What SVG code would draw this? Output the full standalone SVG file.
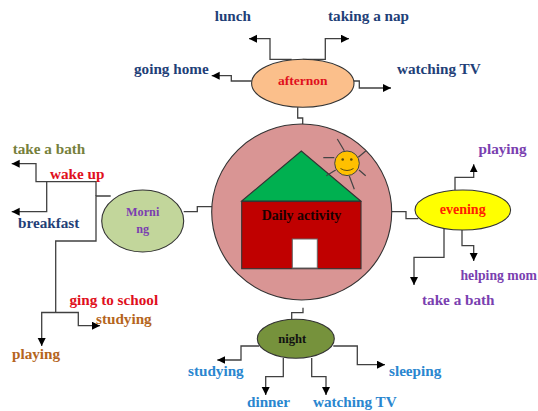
<svg xmlns="http://www.w3.org/2000/svg" width="538" height="411" viewBox="0 0 538 411">
<style>
text{font-family:"Liberation Serif","Times New Roman",serif;font-weight:bold;font-size:15.2px}
.m{text-anchor:middle}
.s{font-size:12.2px}
.c{fill:none;stroke:#404040;stroke-width:1.3}
.a{marker-end:url(#ah)}
.n{stroke:#333;stroke-width:1.1}
.blue{fill:#1f3f78}.sky{fill:#2a86cf}.pur{fill:#7a3fb0}.red{fill:#e0101c}.org{fill:#b5651d}
.ray{stroke:#444;stroke-width:1.2;fill:none}
</style>
<defs>
<marker id="ah" markerUnits="userSpaceOnUse" markerWidth="9" markerHeight="9" refX="8" refY="4" orient="auto"><path d="M0 0L8 4L0 8Z" fill="#000"/></marker>
</defs>
<rect width="538" height="411" fill="#fff"/>
<g id="connectors">
<path class="c" d="M110.7 196H96V241H55.7V313"/>
<path class="c a" d="M96 196V181.7H36V163.7H11.7"/>
<path class="c a" d="M46.7 181.7V211.7H11.7"/>
<path class="c a" d="M55.7 312.5H41.7V346"/>
<path class="c a" d="M55.7 312.5H78.3V325.7H100"/>
<path class="c" d="M183.7 211.7H197.3V206.7H212"/>
<path class="c a" d="M291.7 59.3H270V38.7H249"/>
<path class="c a" d="M302.7 59.3H325.3V38.7H349"/>
<path class="c a" d="M251.7 81H231.3V75.7H211.7"/>
<path class="c a" d="M354 81H359.3V88H391"/>
<path class="c" d="M297.7 107.3V118H302.7V129"/>
<path class="c" d="M391.5 211.7H406V218.7H418.3"/>
<path class="c a" d="M455 190V177.3H473.7V164.3"/>
<path class="c a" d="M462 230V245.7H473.7V261"/>
<path class="c a" d="M444 229V257.3H414V285"/>
<path class="c" d="M291.7 319.3V312.7H303V307.7"/>
<path class="c a" d="M259 346H241V360H217.3"/>
<path class="c a" d="M333.3 346H357.3V364.7H385"/>
<path class="c a" d="M283.3 358V376.7H265.7V395"/>
<path class="c a" d="M311.7 358V376.7H326V395"/>
</g>
<g id="center">
<ellipse class="n" cx="301.7" cy="212" rx="90" ry="88" fill="#d99594"/>
<polygon points="301.3,151 360.7,201 241.7,201" fill="#00b050" stroke="#333" stroke-width="1.1"/>
<rect class="n" x="241.7" y="201.5" width="119.3" height="67.2" fill="#c00000"/>
<rect x="292.3" y="239" width="25" height="29" fill="#fff" stroke="#666" stroke-width="1"/>
<text class="m" x="301.5" y="220" fill="#1a0000" style="font-size:14px">Daily activity</text>
<g id="sun">
<path class="ray" d="M323.3 157.7H334.3M337.3 139L344.3 150.7M366 150.7L358.3 157.3M365.7 175.7L359 170M354.3 189.3L349.3 176M326.3 175.7L335.7 170"/>
<circle cx="347" cy="163.3" r="12.3" fill="#ffc000" stroke="#444" stroke-width="1"/>
<circle cx="342.7" cy="159.5" r="1.3" fill="#5a4a10"/>
<circle cx="351.3" cy="159.5" r="1.3" fill="#5a4a10"/>
<path d="M340.5 168.5Q347 172.5 353.5 168.5" fill="none" stroke="#5a4a10" stroke-width="1"/>
</g>
</g>
<g id="morning">
<ellipse class="n" cx="142.7" cy="221" rx="41" ry="31" fill="#c2d69b"/>
<text class="m s" x="142.7" y="215.7" fill="#7a3fb0">Morni</text>
<text class="m s" x="142.7" y="233" fill="#7a3fb0">ng</text>
</g>
<g id="afternoon">
<ellipse class="n" cx="302.8" cy="83.3" rx="51.2" ry="24" fill="#fbbf8b"/>
<text class="m" x="302.7" y="84.7" fill="#e0101c" style="font-size:13.5px">afternon</text>
</g>
<g id="evening">
<ellipse class="n" cx="462.8" cy="210" rx="47.8" ry="20" fill="#ffff00"/>
<text class="m" x="462.7" y="214" fill="#ff2000" style="font-size:14px">evening</text>
</g>
<g id="night">
<ellipse class="n" cx="295.8" cy="338.8" rx="38.5" ry="19.5" fill="#76923c"/>
<text class="m" x="292.3" y="342.7" fill="#111" style="font-size:12.6px">night</text>
</g>
<g id="labels">
<text x="12.7" y="154" fill="#76803c">take a bath</text>
<text x="50" y="179.3" class="red">wake up</text>
<text x="18" y="227.7" class="blue">breakfast</text>
<text x="69.5" y="305" class="red">ging to school</text>
<text x="96" y="324" class="org">studying</text>
<text x="12" y="358.5" class="org">playing</text>
<text x="214.7" y="21" class="blue">lunch</text>
<text x="328" y="21" class="blue">taking a nap</text>
<text x="134" y="74" class="blue">going home</text>
<text x="397" y="74" class="blue">watching TV</text>
<text x="478.5" y="154" class="pur">playing</text>
<text x="460.5" y="280" class="pur" style="font-size:13.7px">helping mom</text>
<text x="422" y="304.7" class="pur">take a bath</text>
<text x="188" y="376" class="sky">studying</text>
<text x="389" y="376" class="sky">sleeping</text>
<text x="247" y="406.7" class="sky">dinner</text>
<text x="313" y="406.7" class="sky">watching TV</text>
</g>
</svg>
